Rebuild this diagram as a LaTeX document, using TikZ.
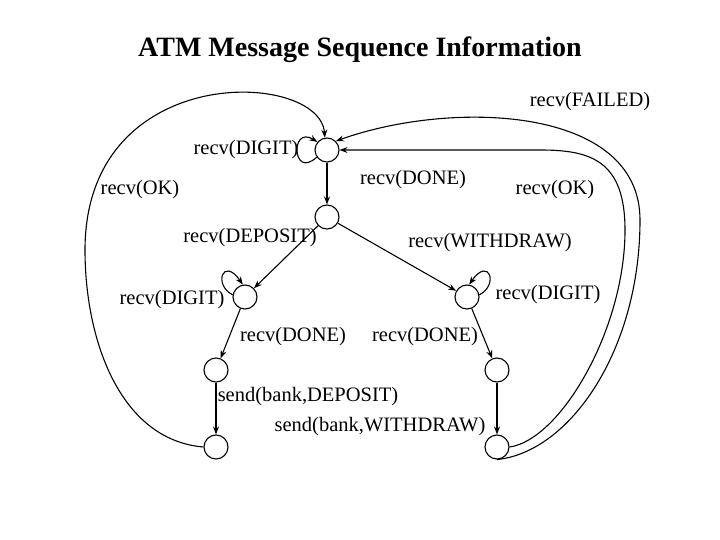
\documentclass[tikz,border=0pt]{standalone}
\usepackage{fontspec}
\setmainfont{Liberation Serif}
\usetikzlibrary{arrows.meta}
\begin{document}
\begin{tikzpicture}[x=1pt,y=-1pt,
  st/.style={circle,draw,line width=1.1pt,minimum size=24pt,inner sep=0pt},
  lb/.style={font=\fontsize{20.5}{23}\selectfont,inner sep=0pt},
  ar/.style={line width=1.1pt,-{Stealth[length=8pt,width=6pt]}}]
\useasboundingbox (0,0) rectangle (720,540);
\node[font=\bfseries\fontsize{28}{32}\selectfont] (t) at (360,50) {ATM Message Sequence Information};
\node[st] (A) at (327,150) {};
\node[st] (B) at (327,217) {};
\node[st] (C) at (245,297) {};
\node[st] (D) at (467,297) {};
\node[st] (E) at (216,370) {};
\node[st] (F) at (497,370) {};
\node[st] (G) at (216,447) {};
\node[st] (H) at (497,447) {};
\draw[ar] (A) -- (B);
\draw[ar] (B) -- (C);
\draw[ar] (B) -- (D);
\draw[ar] (C) -- (E);
\draw[ar] (D) -- (F);
\draw[ar] (E) -- (G);
\draw[ar] (F) -- (H);
\draw[ar] (A.215) .. controls (292,180) and (290,125) .. (A.140);
\draw[ar] (C.170) .. controls (213,285) and (223,256) .. (C.100);
\draw[ar] (D.10) .. controls (499,285) and (489,256) .. (D.80);
\draw[ar] (G.west) .. controls (120,440) and (85,340) .. (85,250) .. controls (85,60) and (320,70) .. (A.100);
\draw[ar] (H.south) .. controls (570,452) and (640,350) .. (640,220) .. controls (640,105) and (450,100) .. (A.45);
\draw[ar] (H.east) .. controls (560,440) and (625,330) .. (625,230) .. controls (625,160) and (590,150) .. (540,150) -- (A.east);
\node[lb] (l1) at (246,150) {recv(DIGIT)};
\node[lb] (l2) at (413,180) {recv(DONE)};
\node[lb] (l3) at (140,190) {recv(OK)};
\node[lb] (l4) at (555,190) {recv(OK)};
\node[lb] (l5) at (590,102) {recv(FAILED)};
\node[lb] (l6) at (250,238) {recv(DEPOSIT)};
\node[lb] (l7) at (490,243) {recv(WITHDRAW)};
\node[lb] (l8) at (172,300) {recv(DIGIT)};
\node[lb] (l9) at (548,295) {recv(DIGIT)};
\node[lb] (l10) at (293,337) {recv(DONE)};
\node[lb] (l11) at (425,337) {recv(DONE)};
\node[lb] (l12) at (308,397) {send(bank,DEPOSIT)};
\node[lb] (l13) at (380,427) {send(bank,WITHDRAW)};
\end{tikzpicture}
\end{document}
